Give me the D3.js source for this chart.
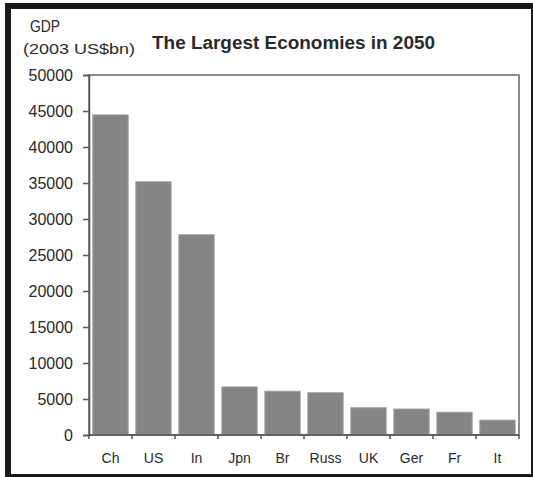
<!DOCTYPE html>
<html>
<head>
<meta charset="utf-8">
<script src="https://cdn.jsdelivr.net/npm/d3@7"></script>
<style>
  body { margin: 0; background: #fff; }
  text { font-family: "Liberation Sans", Arial, sans-serif; fill: #2a2a2a; }
</style>
</head>
<body>
<svg id="chart" width="533" height="477"></svg>
<script>
const countries = ["Ch", "US", "In", "Jpn", "Br", "Russ", "UK", "Ger", "Fr", "It"];
const gdp2050 = [44453, 35165, 27803, 6673, 6074, 5870, 3782, 3603, 3148, 2061];
const yTicks = [0, 5000, 10000, 15000, 20000, 25000, 30000, 35000, 40000, 45000, 50000];

const svg = d3.select("#chart");
const plotLeft = 89, plotRight = 519, plotTop = 75, plotBottom = 435;

// dark frame round the picture
const frame = svg.append("g").attr("fill", "#1a1a1a");
frame.append("rect").attr("x", 5).attr("y", 3).attr("width", 528).attr("height", 6);
frame.append("rect").attr("x", 5).attr("y", 3).attr("width", 6).attr("height", 474);
frame.append("rect").attr("x", 5).attr("y", 474).attr("width", 528).attr("height", 3);
frame.append("rect").attr("x", 531).attr("y", 3).attr("width", 2).attr("height", 474);

const x = d3.scaleBand().domain(countries).range([plotLeft, plotRight])
  .paddingInner(0.18).paddingOuter(0.09);
const y = d3.scaleLinear().domain([0, 50000]).range([plotBottom, plotTop]);

// plot box
svg.append("rect")
  .attr("x", plotLeft).attr("y", plotTop)
  .attr("width", plotRight - plotLeft).attr("height", plotBottom - plotTop)
  .attr("fill", "none").attr("stroke", "#666").attr("stroke-width", 1.5);

svg.append("g").selectAll("rect").data(countries).join("rect")
  .attr("x", d => x(d))
  .attr("y", (d, i) => y(gdp2050[i]))
  .attr("width", x.bandwidth())
  .attr("height", (d, i) => y(0) - y(gdp2050[i]))
  .attr("fill", "#858585")
  .attr("stroke", "#9a9a9a").attr("stroke-width", 1);

// y axis
const yAxis = svg.append("g").attr("transform", `translate(${plotLeft},0)`)
  .call(d3.axisLeft(y).tickValues(yTicks).tickFormat(d3.format("d")).tickSize(6).tickPadding(10));
yAxis.select(".domain").attr("stroke", "#555").attr("stroke-width", 1.5);
yAxis.selectAll(".tick line").attr("stroke", "#555").attr("stroke-width", 1.5);
yAxis.selectAll("text").style("font-size", "16px").attr("fill", "#2a2a2a");

// x axis: ticks at band edges, labels centred
const step = x.step();
const edges = countries.map(c => x(c) - step * x.paddingInner() / 2).concat([plotRight]);
const xAxis = svg.append("g");
xAxis.append("line").attr("x1", plotLeft).attr("x2", plotRight).attr("y1", plotBottom).attr("y2", plotBottom)
  .attr("stroke", "#555").attr("stroke-width", 1.5);
xAxis.selectAll(".tk").data(edges).join("line").attr("class", "tk")
  .attr("x1", d => d).attr("x2", d => d).attr("y1", plotBottom).attr("y2", plotBottom + 4)
  .attr("stroke", "#555").attr("stroke-width", 1.5);
xAxis.selectAll("text").data(countries).join("text")
  .attr("x", d => x(d) + x.bandwidth() / 2).attr("y", 463)
  .attr("text-anchor", "middle").style("font-size", "14px")
  .text(d => d);

// titles
svg.append("text").attr("x", 30).attr("y", 32).style("font-size", "16px")
  .attr("textLength", 30).attr("lengthAdjust", "spacingAndGlyphs").text("GDP");
svg.append("text").attr("x", 23).attr("y", 54).style("font-size", "15px")
  .attr("textLength", 112).attr("lengthAdjust", "spacingAndGlyphs").text("(2003 US$bn)");
svg.append("text").attr("x", 152).attr("y", 49).style("font-size", "18px").style("font-weight", "bold")
  .attr("textLength", 283).attr("lengthAdjust", "spacingAndGlyphs").text("The Largest Economies in 2050");
</script>
</body>
</html>
